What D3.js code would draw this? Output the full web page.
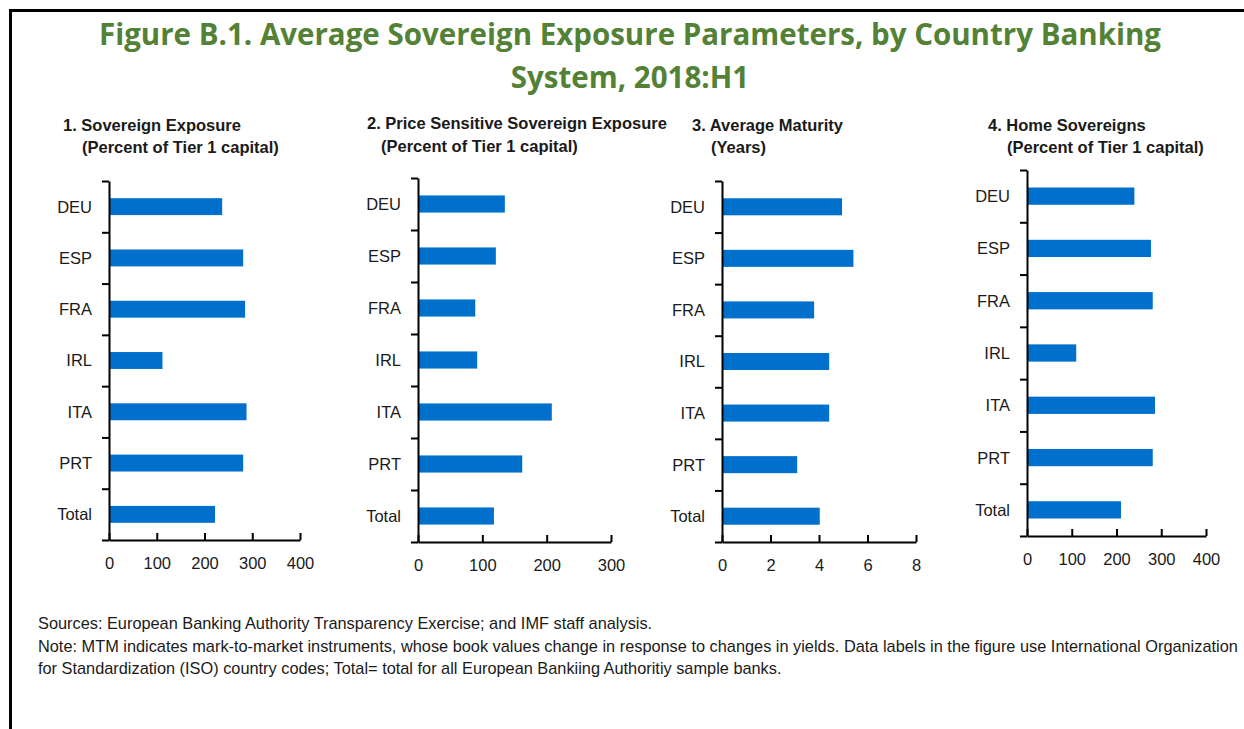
<!DOCTYPE html>
<html>
<head>
<meta charset="utf-8">
<script src="https://cdn.jsdelivr.net/npm/d3@7"></script>
<style>
  body { margin: 0; background: #fff; }
  svg text { fill: #1a1a1a; }
  .narrow { font-family: "Liberation Sans", Arial, sans-serif; }
</style>
</head>
<body>
<div id="chart"></div>
<script>
// data
const countries = ["DEU", "ESP", "FRA", "IRL", "ITA", "PRT", "Total"];
const sovExposure = [237, 281, 285, 112, 288, 281, 222];
const priceSensitive = [135, 121, 89, 92, 208, 162, 118];
const avgMaturity = [4.95, 5.42, 3.80, 4.42, 4.42, 3.10, 4.03];
const homeSovereigns = [240, 277, 281, 110, 286, 281, 210];

const ticks1 = [0, 100, 200, 300, 400];
const ticks2 = [0, 100, 200, 300];
const ticks3 = [0, 2, 4, 6, 8];
const ticks4 = [0, 100, 200, 300, 400];

const title1 = ["1. Sovereign Exposure", "(Percent of Tier 1 capital)"];
const title2 = ["2. Price Sensitive Sovereign Exposure", "(Percent of Tier 1 capital)"];
const title3 = ["3. Average Maturity", "(Years)"];
const title4 = ["4. Home Sovereigns", "(Percent of Tier 1 capital)"];

const width = 1244, height = 729;
const bar_color = "#0070CC";
const lbl_size = 16.5;

let svg = d3.select("#chart")
            .append("svg")
            .attr("width", width)
            .attr("height", height);

// frame (runs off the right and bottom edges)
svg.append("rect")
   .attr("x", 10.5).attr("y", 10.5)
   .attr("width", width + 20).attr("height", height + 20)
   .style("fill", "none")
   .style("stroke", "#000")
   .style("stroke-width", 3);

// main title
let title = svg.append("text")
               .attr("text-anchor", "middle")
               .style("font-family", "'Open Sans', 'Noto Sans', sans-serif")
               .style("font-weight", "bold")
               .style("font-size", "29.5px");
title.append("tspan").attr("x", 630).attr("y", 45)
     .style("fill", "#538135")
     .text("Figure B.1. Average Sovereign Exposure Parameters, by Country Banking");
title.append("tspan").attr("x", 630).attr("y", 88)
     .style("fill", "#538135")
     .text("System, 2018:H1");

let panels = [
  {values: sovExposure, ticks: ticks1, title: title1, ax: 109, xEnd: 300, top: 181, bottom: 540, t1: [63, 131], t2: [82, 153]},
  {values: priceSensitive, ticks: ticks2, title: title2, ax: 418, xEnd: 611, top: 178, bottom: 542, t1: [367, 129], t2: [381, 152]},
  {values: avgMaturity, ticks: ticks3, title: title3, ax: 722, xEnd: 916, top: 181, bottom: 542, t1: [692, 131], t2: [711, 153]},
  {values: homeSovereigns, ticks: ticks4, title: title4, ax: 1027, xEnd: 1206, top: 170, bottom: 536, t1: [988, 131], t2: [1007, 153]}
];

panels.forEach(p => drawPanel(p));

function drawPanel(p) {
  let g = svg.append("g").attr("class", "narrow");

  let x = d3.scaleLinear()
            .domain([0, p.ticks[p.ticks.length - 1]])
            .range([p.ax, p.xEnd]);

  let y = d3.scaleBand()
            .domain(countries)
            .range([p.top, p.bottom])
            .paddingInner(0.67)
            .paddingOuter(0.335);

  // category boundaries for the tick marks
  let yIdx = d3.scaleLinear()
               .domain([0, countries.length])
               .range([p.top, p.bottom]);

  g.selectAll("rect")
   .data(countries.map((c, i) => ({c: c, v: p.values[i]})))
   .enter().append("rect")
   .attr("x", x(0))
   .attr("y", d => y(d.c))
   .attr("width", d => x(d.v) - x(0))
   .attr("height", y.bandwidth())
   .attr("fill", bar_color);

  let xAxis = g.append("g")
               .attr("transform", "translate(0," + p.bottom + ")")
               .call(d3.axisBottom(x).tickValues(p.ticks).tickSizeInner(-7).tickSizeOuter(0).tickPadding(17));
  xAxis.selectAll("path, line").style("stroke", "#000").style("stroke-width", 2);
  xAxis.selectAll("text")
       .attr("font-size", lbl_size)
       .style("font-family", "'Liberation Sans', Arial, sans-serif")
       .style("fill", "#1a1a1a");

  let yAxis = g.append("g")
               .attr("transform", "translate(" + p.ax + ",0)")
               .call(d3.axisLeft(yIdx).ticks(countries.length).tickFormat("").tickSizeInner(7).tickSizeOuter(0));
  yAxis.selectAll("path, line").style("stroke", "#000").style("stroke-width", 2);

  g.selectAll(".cat")
   .data(countries)
   .enter().append("text")
   .attr("class", "cat")
   .attr("x", p.ax - 17)
   .attr("y", d => y(d) + y.bandwidth() / 2)
   .attr("dy", "0.36em")
   .attr("text-anchor", "end")
   .style("font-size", lbl_size + "px")
   .text(d => d);

  g.append("text")
   .attr("x", p.t1[0]).attr("y", p.t1[1])
   .style("font-size", "16.5px")
   .style("font-weight", "bold")
   .text(p.title[0]);
  g.append("text")
   .attr("x", p.t2[0]).attr("y", p.t2[1])
   .style("font-size", "16.5px")
   .style("font-weight", "bold")
   .text(p.title[1]);
}

// notes
let notes = [
  "Sources: European Banking Authority Transparency Exercise; and IMF staff analysis.",
  "Note: MTM indicates mark-to-market instruments, whose book values change in response to changes in yields. Data labels in the figure use International Organization",
  "for Standardization (ISO) country codes; Total= total for all European Bankiing Authoritiy sample banks."
];
let noteText = svg.append("g").attr("class", "narrow")
   .selectAll("text")
   .data(notes)
   .enter().append("text")
   .attr("x", 38)
   .attr("y", (d, i) => 629 + i * 22.5)
   .style("font-size", "16px")
   .text(d => d);

// fit the long note line to the width it has in the figure
let w = noteText.nodes()[1].getComputedTextLength();
noteText.style("font-size", (16 * 1200 / w) + "px");
</script>
</body>
</html>
